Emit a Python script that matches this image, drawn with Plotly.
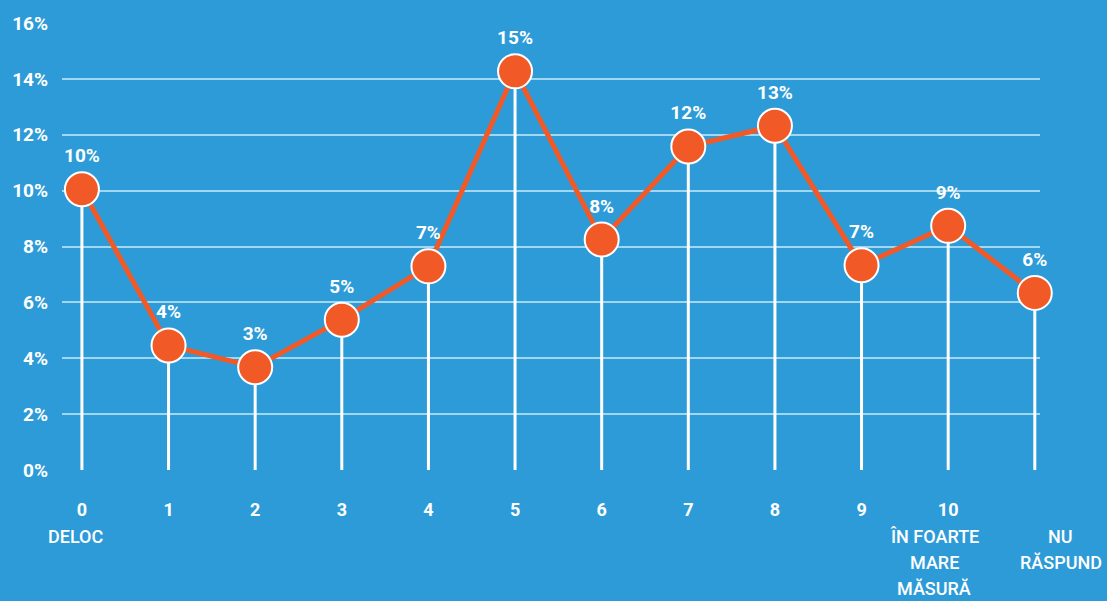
import plotly.graph_objects as go

categories = ["0", "1", "2", "3", "4", "5", "6", "7", "8", "9", "10", ""]
word_labels = [["DELOC"], [], [], [], [], [], [], [], [], [], ["ÎN FOARTE", "MARE", "MĂSURĂ"], ["NU", "RĂSPUND"]]
word_shift = [-6, 0, 0, 0, 0, 0, 0, 0, 0, 0, -14, 26]
values = [10.05, 4.46, 3.68, 5.38, 7.29, 14.27, 8.25, 11.58, 12.32, 7.33, 8.74, 6.34]
value_labels = ["10%", "4%", "3%", "5%", "7%", "15%", "8%", "12%", "13%", "7%", "9%", "6%"]
y_ticks = [0, 2, 4, 6, 8, 10, 12, 14, 16]
y_tick_labels = [f"{t}%" for t in y_ticks]

BG = "#2D9BD7"
ORANGE = "#F15A27"
WHITE = "#FFFFFF"
GRID = "rgba(200,235,250,0.75)"
FONT = "Roboto"

xs = list(range(len(categories)))

stem_x, stem_y = [], []
for x, v in zip(xs, values):
    stem_x += [x, x, None]
    stem_y += [0, v, None]

fig = go.Figure()
fig.add_trace(go.Scatter(x=stem_x, y=stem_y, mode="lines",
                         line=dict(color=WHITE, width=3), hoverinfo="skip",
                         showlegend=False))
fig.add_trace(go.Scatter(x=xs, y=values, mode="lines+markers+text",
                         line=dict(color=ORANGE, width=5),
                         marker=dict(size=34, color=ORANGE, line=dict(color=WHITE, width=2)),
                         text=value_labels, textposition="top center",
                         textfont=dict(family=FONT, size=19, color=WHITE, weight="bold"),
                         cliponaxis=False, showlegend=False))

annotations = []
for x, lines, sh in zip(xs, word_labels, word_shift):
    for k, line in enumerate(lines):
        annotations.append(dict(x=x, xref="x", y=0, yref="paper", yanchor="middle",
                                xshift=sh, yshift=-66 - 26 * k, text=line, showarrow=False,
                                font=dict(family=FONT, size=18, color=WHITE, weight=500)))

fig.update_layout(
    width=1107, height=601,
    margin=dict(l=62, r=67, t=18, b=131),
    paper_bgcolor=BG, plot_bgcolor=BG,
    annotations=annotations,
    xaxis=dict(range=[-0.23, 11.06], tickmode="array", tickvals=xs,
               ticktext=[f"<b>{c}</b>" for c in categories],
               showgrid=False, zeroline=False, showline=False,
               tickfont=dict(family=FONT, size=18, color=WHITE),
               ticks="", ticklabelstandoff=27),
    yaxis=dict(range=[0, 16], tickmode="array", tickvals=y_ticks, ticktext=y_tick_labels,
               showgrid=True, gridcolor=GRID, gridwidth=1.5, zeroline=False,
               showline=False, ticks="", ticklabelstandoff=13,
               tickfont=dict(family=FONT, size=19, color=WHITE, weight="bold")),
)

fig.write_html("out.html", config={"displayModeBar": False},
               post_script="document.body.style.margin='0';document.body.style.overflow='hidden';")
